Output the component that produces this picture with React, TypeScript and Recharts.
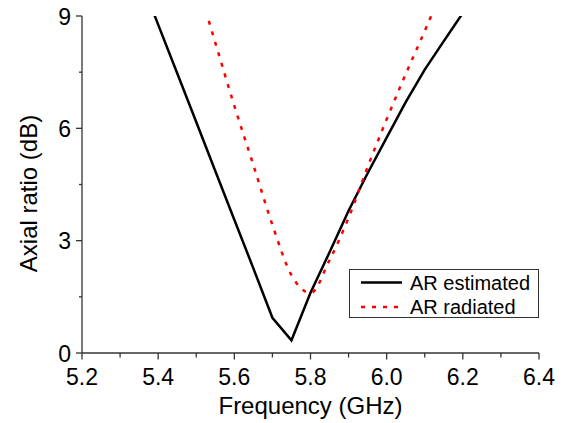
import React from "react";
import { LineChart, Line, XAxis, YAxis, Legend, Label } from "recharts";

const estFreq = [5.35, 5.4, 5.45, 5.5, 5.55, 5.6, 5.65, 5.7, 5.75, 5.8, 5.85, 5.9, 5.95, 6.0, 6.05, 6.1, 6.15, 6.2];
const estAR = [10.07, 8.77, 7.47, 6.17, 4.86, 3.56, 2.26, 0.94, 0.34, 1.61, 2.69, 3.8, 4.8, 5.75, 6.7, 7.57, 8.33, 9.08];

const radFreq = [5.5, 5.55, 5.6, 5.65, 5.7, 5.75, 5.8, 5.85, 5.9, 5.95, 6.0, 6.05, 6.1, 6.15];
const radAR = [10.0, 8.29, 6.6, 5.02, 3.42, 2.08, 1.6, 2.48, 3.61, 4.97, 6.24, 7.45, 8.6, 9.8];

const xTicks = [5.2, 5.3, 5.4, 5.5, 5.6, 5.7, 5.8, 5.9, 6.0, 6.1, 6.2, 6.3, 6.4];
const yTicks = [0, 1.5, 3, 4.5, 6, 7.5, 9];

const estData = estFreq.map((f, i) => ({ f, v: estAR[i] }));
const radData = radFreq.map((f, i) => ({ f, v: radAR[i] }));

const FONT = "'Liberation Sans', Arial, sans-serif";
const AXIS = "#333333";

const XTick = (props: any) => {
  const { x, y, payload } = props;
  const v = payload.value as number;
  const major = Math.round(v * 10) % 2 === 0;
  return (
    <g>
      <line x1={x} x2={x} y1={y} y2={y + (major ? 6.5 : 4.5)} stroke={AXIS} strokeWidth={1.3} />
      {major && (
        <text x={x} y={y + 32} textAnchor="middle" fontSize={23} fontFamily={FONT} fill="#000">
          {v.toFixed(1)}
        </text>
      )}
    </g>
  );
};

const YTick = (props: any) => {
  const { x, y, payload } = props;
  const v = payload.value as number;
  const major = v % 3 === 0;
  return (
    <g>
      <line x1={x} x2={x - (major ? 6 : 3)} y1={y} y2={y} stroke={AXIS} strokeWidth={1.3} />
      {major && (
        <text x={x - 11} y={y + 8.5} textAnchor="end" fontSize={23} fontFamily={FONT} fill="#000">
          {String(v)}
        </text>
      )}
    </g>
  );
};

const LegendBox = () => (
  <div style={{ width: 190, height: 49, border: "1px solid #333", boxSizing: "border-box", background: "#fff" }}>
    <svg width={188} height={47} style={{ display: "block" }}>
      <line x1={11} x2={52} y1={12.5} y2={12.5} stroke="#000" strokeWidth={2.5} />
      <text x={60} y={19.5} fontSize={20} fontFamily={FONT} fill="#000">AR estimated</text>
      <line x1={11} x2={52} y1={37} y2={37} stroke="#ff0000" strokeWidth={2.5} strokeDasharray="4 7" />
      <text x={60} y={43.5} fontSize={20} fontFamily={FONT} fill="#000">AR radiated</text>
    </svg>
  </div>
);

export default function App() {
  return (
    <div style={{ width: 555, height: 415 }}>
      <style>{`.recharts-surface { overflow: visible; }`}</style>
      <LineChart width={555} height={415} margin={{ top: 8, right: 24, bottom: 0, left: 0 }}>
        <XAxis
          dataKey="f"
          type="number"
          domain={[5.2, 6.4]}
          ticks={xTicks}
          allowDataOverflow
          height={70}
          tickSize={0}
          tickMargin={0}
          tickLine={false}
          axisLine={{ stroke: AXIS, strokeWidth: 1.3 }}
          tick={<XTick />}
          interval={0}
        >
          <Label
            content={(p: any) => {
              const vb = p.viewBox;
              return (
                <text x={vb.x + vb.width / 2} y={vb.y + 60.5} textAnchor="middle" fontSize={24} fontFamily={FONT} fill="#000">
                  Frequency (GHz)
                </text>
              );
            }}
          />
        </XAxis>
        <YAxis
          type="number"
          domain={[0, 9]}
          ticks={yTicks}
          allowDataOverflow
          width={74}
          tickSize={0}
          tickMargin={0}
          tickLine={false}
          axisLine={{ stroke: AXIS, strokeWidth: 1.3 }}
          tick={<YTick />}
          interval={0}
        >
          <Label
            content={(p: any) => {
              const vb = p.viewBox;
              const cx = 28.7;
              const cy = vb.y + vb.height / 2 + 9;
              return (
                <text x={cx} y={cy} transform={`rotate(-90, ${cx}, ${cy})`} textAnchor="middle" fontSize={24} fontFamily={FONT} fill="#000">
                  Axial ratio (dB)
                </text>
              );
            }}
          />
        </YAxis>
        <Legend
          layout="vertical"
          align="center"
          verticalAlign="middle"
          content={() => <LegendBox />}
          wrapperStyle={{ position: "absolute", left: 341, top: 261, width: 190, height: 49 }}
        />
        <Line
          data={estData}
          dataKey="v"
          type="linear"
          stroke="#000"
          strokeWidth={2.5}
          dot={false}
          isAnimationActive={false}
          name="AR estimated"
        />
        <Line
          data={radData}
          dataKey="v"
          type="monotone"
          stroke="#ff0000"
          strokeWidth={2.5}
          strokeDasharray="4 7"
          dot={false}
          isAnimationActive={false}
          name="AR radiated"
        />
      </LineChart>
    </div>
  );
}
